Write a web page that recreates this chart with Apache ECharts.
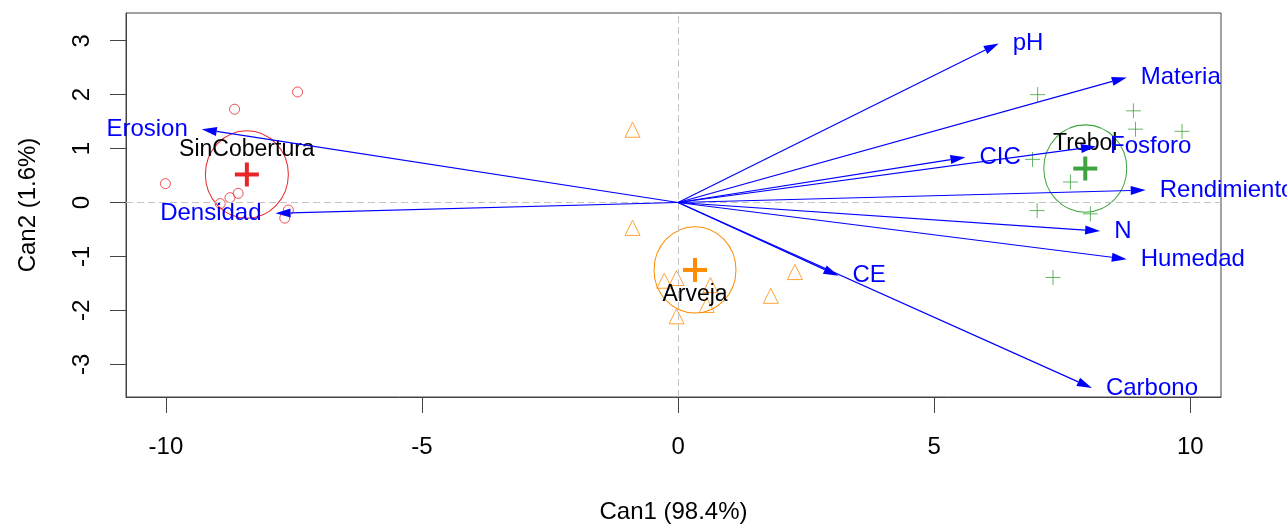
<!DOCTYPE html>
<html><head><meta charset="utf-8">
<script src="https://cdn.jsdelivr.net/npm/echarts@6/dist/echarts.min.js"></script>
<style>html,body{margin:0;padding:0;background:#fff}#c{width:1287px;height:529px}</style>
</head><body><div id="c"></div>
<script>
const xTicks = [-10, -5, 0, 5, 10];
const yTicks = [-3, -2, -1, 0, 1, 2, 3];
const groupNames = ['SinCobertura', 'Arveja', 'Trebol'];
const sinCobertura = [[-7.43,2.05],[-8.66,1.73],[-10.01,0.35],[-8.94,-0.02],[-8.75,0.09],[-8.59,0.17],[-7.61,-0.14],[-7.68,-0.29]];
const arveja = [[-0.89,1.35],[-0.89,-0.47],[-0.27,-1.45],[-0.03,-1.40],[-0.03,-2.11],[0.63,-1.53],[0.56,-1.90],[1.81,-1.73],[2.28,-1.29]];
const trebol = [[7.02,2.00],[8.89,1.70],[8.93,1.36],[9.84,1.32],[6.92,0.80],[7.66,0.38],[7.01,-0.15],[8.05,-0.21],[7.32,-1.39]];
const centroidX = [-8.42, 0.33, 7.95];
const centroidY = [0.52, -1.25, 0.63];
const radii = [0.81, 0.80, 0.81];
const varNames = ['pH','Materia','CIC','Fosforo','Rendimiento','N','Humedad','CE','Carbono','Erosion','Densidad'];
const varX = [6.26, 8.76, 5.61, 8.16, 9.13, 8.24, 8.76, 3.13, 8.08, -9.30, -7.86];
const varY = [2.95, 2.32, 0.84, 1.04, 0.23, -0.53, -1.05, -1.36, -3.44, 1.36, -0.20];
const xLabel = 'Can1 (98.4%)';
const yLabel = 'Can2 (1.6%)';

const colors = ['#E8262A', '#FF8C00', '#3FA33F'];
const FONT = '"Liberation Sans", Arial, sans-serif';
const PLUS = 'path://M0,5L10,5M5,0L5,10';

const chart = echarts.init(document.getElementById('c'), null, {renderer: 'canvas'});
const centroidData = centroidX.map((x, i) => [x, centroidY[i], radii[i]]);
const varData = varX.map((x, i) => [x, varY[i]]);

function pts(name, data, symbol, size, color) {
  return {
    type: 'scatter', name, data, symbol, symbolSize: size, z: 2, silent: true,
    itemStyle: {color: 'transparent', borderColor: color, borderWidth: 1},
    emphasis: {disabled: true}
  };
}

const option = {
  animation: false,
  backgroundColor: '#fff',
  grid: {left: 126, right: 66, top: 13, bottom: 128, show: true, borderColor: '#444', borderWidth: 1},
  xAxis: {
    type: 'value', min: -10.78, max: 10.6,
    splitLine: {show: false},
    axisLine: {show: true, onZero: false, lineStyle: {color: '#444'}},
    axisTick: {show: true, length: 16, customValues: xTicks, lineStyle: {color: '#444'}},
    axisLabel: {customValues: xTicks, fontSize: 24, color: '#000', fontFamily: FONT, margin: 38},
    name: xLabel, nameLocation: 'middle', nameGap: 103,
    nameTextStyle: {fontSize: 24, color: '#000', fontFamily: FONT}
  },
  yAxis: {
    type: 'value', min: -3.606, max: 3.514,
    splitLine: {show: false},
    axisLine: {show: true, onZero: false, lineStyle: {color: '#444'}},
    axisTick: {show: true, length: 16, customValues: yTicks, lineStyle: {color: '#444'}},
    axisLabel: {customValues: yTicks, fontSize: 24, color: '#000', fontFamily: FONT, margin: 32, rotate: 90},
    name: yLabel, nameLocation: 'middle', nameGap: 86,
    nameTextStyle: {fontSize: 24, color: '#000', fontFamily: FONT}
  },
  series: [
    Object.assign(pts(groupNames[0], sinCobertura, 'circle', 10, colors[0]), {
      markLine: {
        silent: true, symbol: ['none', 'none'], label: {show: false},
        lineStyle: {type: [7, 4], color: '#c4c4c4', width: 1},
        data: [{xAxis: 0}, {yAxis: 0}]
      }
    }),
    pts(groupNames[1], arveja, 'triangle', 15, colors[1]),
    pts(groupNames[2], trebol, PLUS, 15, colors[2]),
    {
      type: 'custom', z: 3, silent: true, data: centroidData,
      encode: {x: 0, y: 1},
      renderItem: function (params, api) {
        const i = params.dataIndex;
        const c = api.coord([api.value(0), api.value(1)]);
        const s = api.size([api.value(2), api.value(2)]);
        return {
          type: 'group', children: [
            {type: 'circle', x: c[0], y: c[1], scaleY: s[1] / s[0],
             shape: {cx: 0, cy: 0, r: s[0]},
             style: {fill: 'none', stroke: colors[i], lineWidth: 1, strokeNoScale: true}},
            {type: 'line', shape: {x1: c[0] - 12, y1: c[1], x2: c[0] + 12, y2: c[1]},
             style: {stroke: colors[i], lineWidth: 4}},
            {type: 'line', shape: {x1: c[0], y1: c[1] - 12, x2: c[0], y2: c[1] + 12},
             style: {stroke: colors[i], lineWidth: 4}},
            {type: 'text', x: c[0], y: c[1] + (api.value(1) < 0 ? 25 : -25),
             style: {text: groupNames[i], fill: '#000', font: '23px ' + FONT, align: 'center', verticalAlign: 'middle'}}
          ]
        };
      }
    },
    {
      type: 'custom', z: 6, silent: true, data: varData,
      encode: {x: 0, y: 1},
      renderItem: function (params, api) {
        const i = params.dataIndex;
        const p0 = api.coord([0, 0]);
        const p1 = api.coord([api.value(0), api.value(1)]);
        const dx = p1[0] - p0[0], dy = p1[1] - p0[1];
        const L = Math.hypot(dx, dy), ux = dx / L, uy = dy / L;
        const hl = 15, hw = 4.5;
        const bx = p1[0] - ux * hl, by = p1[1] - uy * hl;
        const pos = api.value(0) > 0;
        return {
          type: 'group', children: [
            {type: 'line', shape: {x1: p0[0], y1: p0[1], x2: bx, y2: by},
             style: {stroke: '#0000FF', lineWidth: 1.2}},
            {type: 'polygon', shape: {points: [[p1[0], p1[1]], [bx - uy * hw, by + ux * hw], [bx + uy * hw, by - ux * hw]]},
             style: {fill: '#0000FF'}},
            {type: 'text', x: p1[0] + (pos ? 14 : -14), y: p1[1],
             style: {text: varNames[i], fill: '#0000FF', font: '24px ' + FONT, align: pos ? 'left' : 'right', verticalAlign: 'middle'}}
          ]
        };
      }
    }
  ]
};
chart.setOption(option);
</script></body></html>
